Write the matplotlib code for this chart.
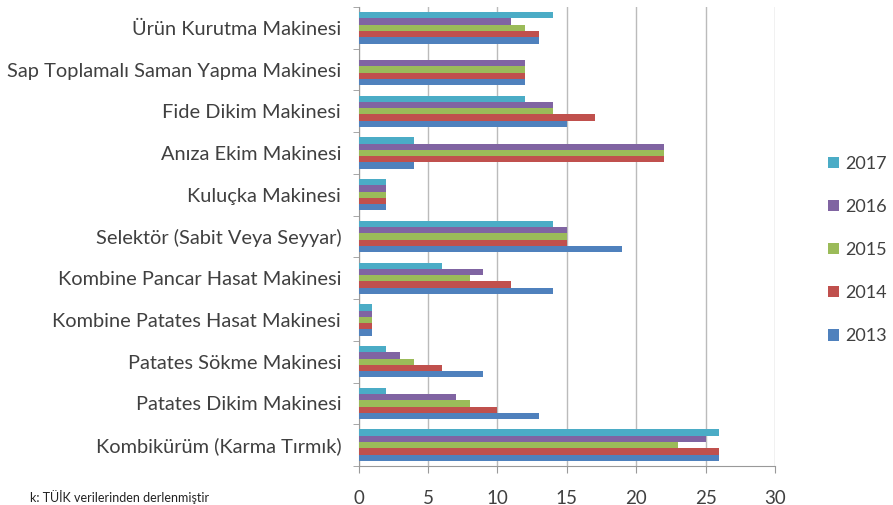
import numpy as np
import matplotlib.pyplot as plt

categories = [
    'Kombikürüm (Karma Tırmık)',
    'Patates Dikim Makinesi',
    'Patates Sökme Makinesi',
    'Kombine Patates Hasat Makinesi',
    'Kombine Pancar Hasat Makinesi',
    'Selektör (Sabit Veya Seyyar)',
    'Kuluçka Makinesi',
    'Anıza Ekim Makinesi',
    'Fide Dikim Makinesi',
    'Sap Toplamalı Saman Yapma Makinesi',
    'Ürün Kurutma Makinesi',
]
years = ['2013', '2014', '2015', '2016', '2017']
v2013 = [26, 13, 9, 1, 14, 19, 2, 4, 15, 12, 13]
v2014 = [26, 10, 6, 1, 11, 15, 2, 22, 17, 12, 13]
v2015 = [23, 8, 4, 1, 8, 15, 2, 22, 14, 12, 12]
v2016 = [25, 7, 3, 1, 9, 15, 2, 22, 14, 12, 11]
v2017 = [26, 2, 2, 1, 6, 14, 2, 4, 12, 0, 14]
colors = ['#4F81BD', '#C0504D', '#9BBB59', '#8064A2', '#4BACC6']

plt.rcParams['font.family'] = ['Lato', 'DejaVu Sans']
txt = '#404040'

fig = plt.figure(figsize=(8.93, 5.05), dpi=100)
ax = fig.add_axes([358.5 / 893, 1 - 466 / 505, (775 - 358.5) / 893, (466 - 7) / 505])

y = np.arange(len(categories))
h = 0.15
series = [v2013, v2014, v2015, v2016, v2017]
handles = []
for i, (vals, c) in enumerate(zip(series, colors)):
    b = ax.barh(y + (i - 2) * h, vals, height=h, color=c, zorder=3)
    handles.append(b)

ax.set_xlim(0, 30)
ax.set_ylim(-0.5, len(categories) - 0.5)
ax.set_xticks(np.arange(0, 31, 5))
ax.set_yticks(y)
ax.set_yticklabels(categories, fontsize=14.4, color=txt)
ax.set_yticks(np.arange(-0.5, len(categories), 1), minor=True)
ax.tick_params(axis='y', which='major', length=0, pad=12.5)
ax.tick_params(axis='y', which='minor', length=4, color='#999999')
ax.tick_params(axis='x', length=5, color='#999999', labelsize=13.5, labelcolor=txt, pad=12)
ax.grid(axis='x', color='#BBBBBB', linewidth=1, zorder=0)
for s in ['top', 'right']:
    ax.spines[s].set_visible(False)
for s in ['left', 'bottom']:
    ax.spines[s].set_color('#999999')

leg = fig.legend(handles[::-1], years[::-1], loc='center left',
                 bbox_to_anchor=(828 / 893, 1 - 250 / 505), frameon=False,
                 fontsize=13, handlelength=0.6, handleheight=0.6,
                 labelspacing=1.5, handletextpad=0.35,
                 borderpad=0, borderaxespad=0)
for t in leg.get_texts():
    t.set_color(txt)

fig.text(30 / 893, 1 / 505, 'k: TÜİK verilerinden derlenmiştir', fontsize=9,
         va='bottom', ha='left', color='#222222')

fig.savefig('out.png', dpi=100)
